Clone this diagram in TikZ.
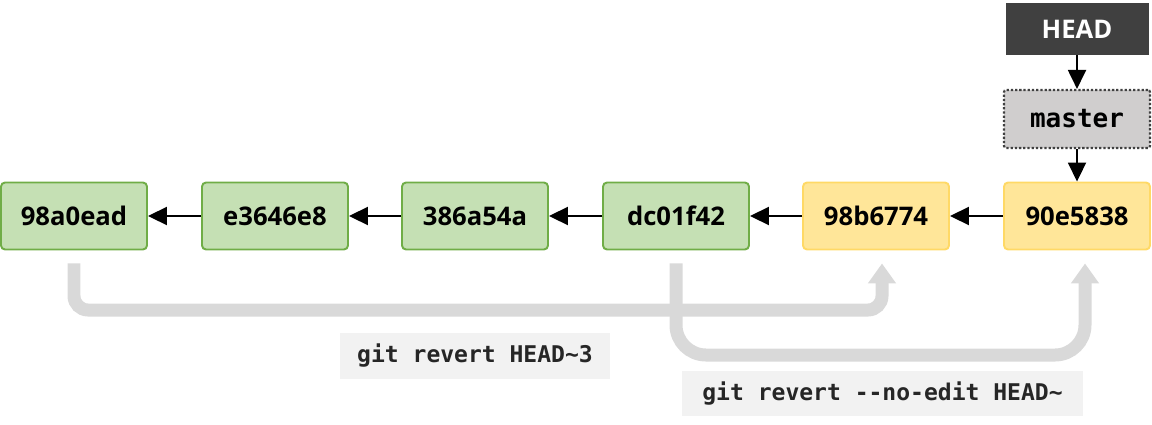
\documentclass[tikz,border=0pt]{standalone}
\usepackage{fontspec}
\usepackage{tikz}
\usetikzlibrary{arrows.meta}
\usetikzlibrary{positioning}
\usepackage{xcolor}

\newfontfamily\idfont{Open Sans}
\newfontfamily\cmdfont{DejaVu Sans Mono}

\definecolor{commitgreen}{HTML}{C5E0B4}
\definecolor{commitgreenline}{HTML}{70AD47}
\definecolor{commityellow}{HTML}{FFE699}
\definecolor{commityellowline}{HTML}{FFD966}
\definecolor{branchgray}{HTML}{D0CECE}
\definecolor{headgray}{HTML}{404040}
\definecolor{routegray}{HTML}{D9D9D9}
\definecolor{cmdgray}{HTML}{F2F2F2}
\definecolor{cmdtext}{HTML}{262626}

\begin{document}
\begin{tikzpicture}[x=0.02cm, y=0.02cm,
  commit/.style={rounded corners=0.08cm, line width=1.1pt, minimum width=2.92cm, minimum height=1.34cm,
    font=\idfont\bfseries\fontsize{14.6}{17}\selectfont},
  oldcommit/.style={commit, fill=commitgreen, draw=commitgreenline},
  newcommit/.style={commit, fill=commityellow, draw=commityellowline},
  branchbox/.style={fill=branchgray, draw=headgray, line width=1.2pt, dash pattern=on 1.3pt off 1.1pt,
    rounded corners=0.04cm, minimum width=2.92cm, minimum height=1.16cm,
    font=\cmdfont\bfseries\fontsize{14.8}{17}\selectfont},
  headbox/.style={fill=headgray, text=white, minimum width=2.86cm, minimum height=1.04cm,
    font=\idfont\bfseries\fontsize{14.6}{17}\selectfont},
  cmdbox/.style={fill=cmdgray, text=cmdtext, font=\cmdfont\bfseries\fontsize{13.1}{15}\selectfont},
  parentarrow/.style={line width=1.1pt, -{Triangle[length=0.38cm, width=0.36cm]}},
  revertroute/.style={routegray, line width=0.26cm, -{Triangle[length=0.4cm, width=0.54cm]}}
]

\useasboundingbox (0,0) rectangle (1152,424);

% commits
{
\node[oldcommit] (c98a0ead) at (74,208) {98a0ead};
\node[oldcommit] (ce3646e8) at (275,208) {e3646e8};
\node[oldcommit] (c386a54a) at (475,208) {386a54a};
\node[oldcommit] (cdc01f42) at (676,208) {dc01f42};
\node[newcommit] (c98b6774) at (876,208) {98b6774};
\node[newcommit] (c90e5838) at (1077,208) {90e5838};
}

% refs
{
\node[branchbox] (master) at (1077,305) {master};
\node[headbox] (head) at (1077,395) {HEAD};
}

% black arrows
{
\draw[parentarrow] (ce3646e8) -- (c98a0ead);
\draw[parentarrow] (c386a54a) -- (ce3646e8);
\draw[parentarrow] (cdc01f42) -- (c386a54a);
\draw[parentarrow] (c98b6774) -- (cdc01f42);
\draw[parentarrow] (c90e5838) -- (c98b6774);

\draw[parentarrow] (head) -- (master);
\draw[parentarrow] (master) -- (c90e5838);
}

% gray routes
{
\coordinate (fromold) at ([yshift=-0.26cm]c98a0ead.south);
\coordinate (toold) at ([xshift=0.12cm, yshift=-0.26cm]c98b6774.south);
\coordinate (fromnew) at ([yshift=-0.26cm]cdc01f42.south);
\coordinate (tonew) at ([xshift=0.16cm, yshift=-0.26cm]c90e5838.south);

\draw[revertroute, rounded corners=0.28cm] (fromold) |- (toold |- 0,114) -- (toold);
\draw[revertroute, rounded corners=0.6cm] (fromnew) |- (tonew |- 0,69) -- (tonew);
}

% nodes
{
\node[cmdbox, minimum width=5.4cm, minimum height=0.92cm] (revert3) at (475,68) {git revert HEAD\char`~3};
\node[cmdbox, minimum width=8.02cm, minimum height=0.9cm] (revert1) at (882.5,30.5) {git revert -{}-no-edit HEAD\char`~};
}

\end{tikzpicture}
\end{document}
